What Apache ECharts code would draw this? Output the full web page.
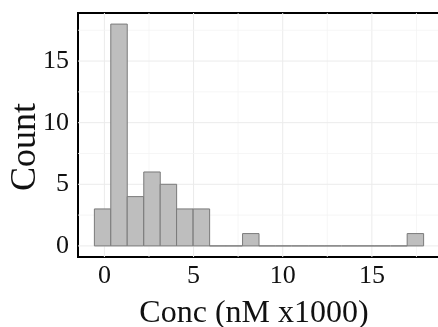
<!DOCTYPE html>
<html>
<head>
<meta charset="utf-8">
<script src="https://cdn.jsdelivr.net/npm/echarts@6/dist/echarts.min.js"></script>
<style>
html,body{margin:0;padding:0;background:#fff;}
#c{width:438px;height:327px;}
</style>
</head>
<body>
<div id="c"></div>
<script>
// Histogram data
const binCenters = [-0.10, 0.82, 1.74, 2.67, 3.59, 4.51, 5.44, 6.36, 7.28, 8.21, 9.13, 10.05, 10.98, 11.90, 12.82, 13.75, 14.67, 15.59, 16.52, 17.44];
const counts     = [3, 18, 4, 6, 5, 3, 3, 0, 0, 1, 0, 0, 0, 0, 0, 0, 0, 0, 0, 1];
const binWidth = 0.923;
const xTicks = [0, 5, 10, 15];
const yTicks = [0, 5, 10, 15];
const xMinorGrid = [2.5, 7.5, 12.5, 17.5];
const yMinorGrid = [2.5, 7.5, 12.5, 17.5];
const xTitle = 'Conc (nM x1000)';
const yTitle = 'Count';

const xMin = -1.48, xMax = 18.82, yMin = -0.9, yMax = 18.9;
const font = 'Liberation Serif';

const gridData = [];
xTicks.forEach(v => gridData.push([0, v, 1]));
xMinorGrid.forEach(v => gridData.push([0, v, 0]));
yTicks.forEach(v => gridData.push([1, v, 1]));
yMinorGrid.forEach(v => gridData.push([1, v, 0]));

const chart = echarts.init(document.getElementById('c'), null, {renderer: 'canvas'});
chart.setOption({
  animation: false,
  backgroundColor: '#fff',
  grid: {left: 78, top: 13, width: 362, height: 244, containLabel: false, outerBoundsMode: 'none',
    show: true, borderColor: '#000', borderWidth: 2, backgroundColor: 'transparent'},
  xAxis: {
    type: 'value', min: xMin, max: xMax,
    axisLine: {show: false},
    splitLine: {show: false},
    axisTick: {show: false},
    axisLabel: {customValues: xTicks, fontFamily: font, fontSize: 26, color: '#111', margin: 6},
    name: xTitle, nameLocation: 'middle', nameGap: 41, nameMoveOverlap: false,
    nameTextStyle: {fontFamily: font, fontSize: 32, color: '#111', padding: [0, 10, 0, 0]}
  },
  yAxis: {
    type: 'value', min: yMin, max: yMax,
    axisLine: {show: false},
    splitLine: {show: false},
    axisTick: {show: false},
    axisLabel: {customValues: yTicks, fontFamily: font, fontSize: 26, color: '#111', margin: 9},
    name: yTitle, nameLocation: 'middle', nameGap: 34, nameMoveOverlap: false,
    nameTextStyle: {fontFamily: font, fontSize: 36, color: '#111', padding: [0, 24, 0, 0]}
  },
  series: [
    {
      type: 'custom', silent: true, z: 1, clip: false,
      data: gridData,
      renderItem: function (params, api) {
        const dir = api.value(0), v = api.value(1), major = api.value(2);
        let p1, p2;
        if (dir === 0) { p1 = api.coord([v, yMin]); p2 = api.coord([v, yMax]); }
        else { p1 = api.coord([xMin, v]); p2 = api.coord([xMax, v]); }
        return {type: 'line', shape: {x1: p1[0], y1: p1[1], x2: p2[0], y2: p2[1]},
          style: {stroke: major ? '#ebebeb' : '#f4f4f4', lineWidth: major ? 1 : 0.8}};
      }
    },
    {
      type: 'custom', silent: true, z: 2,
      data: binCenters.map((c, i) => [c, counts[i]]),
      renderItem: function (params, api) {
        const c = api.value(0), n = api.value(1);
        const p0 = api.coord([c - binWidth / 2, n]);
        const p1 = api.coord([c + binWidth / 2, 0]);
        return {type: 'rect', shape: {x: p0[0], y: p0[1], width: p1[0] - p0[0], height: p1[1] - p0[1]},
          style: {fill: '#bebebe', stroke: '#7a7a7a', lineWidth: 1}};
      }
    }
  ]
});
</script>
</body>
</html>
